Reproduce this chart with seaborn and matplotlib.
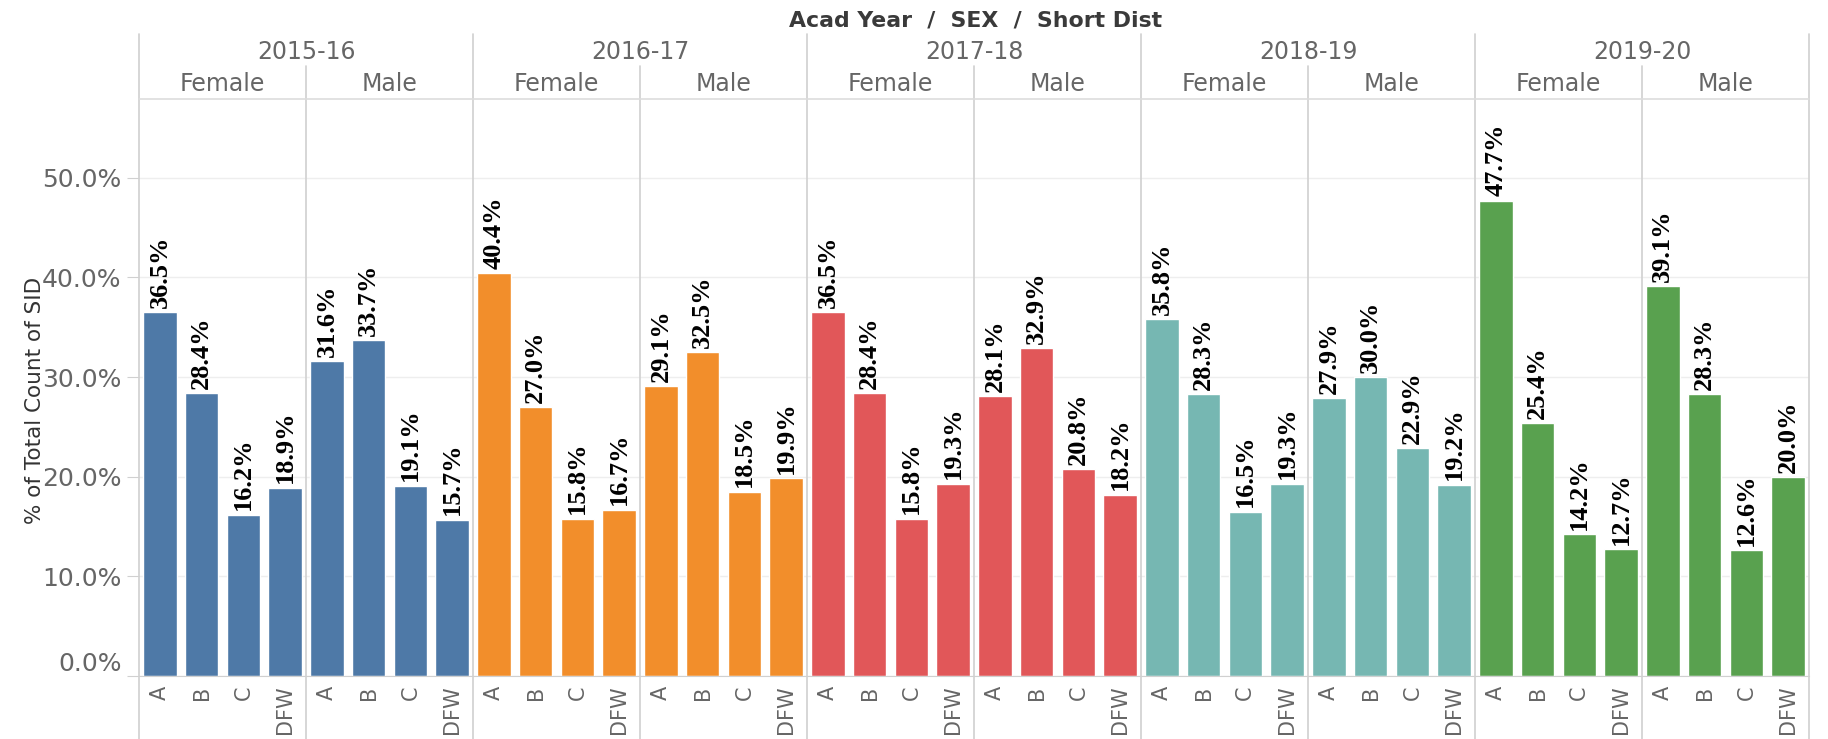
import pandas as pd
import seaborn as sns
import matplotlib.pyplot as plt
from matplotlib.lines import Line2D
from matplotlib.ticker import FuncFormatter

# data (% of total count of SID)
years = ["2015-16", "2016-17", "2017-18", "2018-19", "2019-20"]
sexes = ["Female", "Male"]
grades = ["A", "B", "C", "DFW"]
year_colors = ["#4e79a7", "#f28e2b", "#e15759", "#76b7b2", "#59a14f"]

pct_2015 = {"Female": [36.5, 28.4, 16.2, 18.9], "Male": [31.6, 33.7, 19.1, 15.7]}
pct_2016 = {"Female": [40.4, 27.0, 15.8, 16.7], "Male": [29.1, 32.5, 18.5, 19.9]}
pct_2017 = {"Female": [36.5, 28.4, 15.8, 19.3], "Male": [28.1, 32.9, 20.8, 18.2]}
pct_2018 = {"Female": [35.8, 28.3, 16.5, 19.3], "Male": [27.9, 30.0, 22.9, 19.2]}
pct_2019 = {"Female": [47.7, 25.4, 14.2, 12.7], "Male": [39.1, 28.3, 12.6, 20.0]}
all_pct = [pct_2015, pct_2016, pct_2017, pct_2018, pct_2019]

rows = []
for yr, d in zip(years, all_pct):
    for sx in sexes:
        for g, v in zip(grades, d[sx]):
            rows.append({"year": yr, "sex": sx, "grade": g, "pct": v})
df = pd.DataFrame(rows)

sns.set_style("white")
plt.rcParams["font.family"] = ["DejaVu Sans"]

W, H = 1828, 739
fig, axes = plt.subplots(1, 10, figsize=(W / 100, H / 100), dpi=100, sharey=True)
left, right = 139 / W, 1809 / W
bottom, top = 1 - 676 / H, 1 - 99 / H
fig.subplots_adjust(left=left, right=right, bottom=bottom, top=top, wspace=0)

grey_txt = "#666666"
line_c = "#d0d0d0"

i = 0
for yi, yr in enumerate(years):
    for sx in sexes:
        ax = axes[i]
        sub = df[(df.year == yr) & (df.sex == sx)]
        sns.barplot(data=sub, x="grade", y="pct", order=grades, color=year_colors[yi],
                    saturation=1, width=0.8, ax=ax, errorbar=None)
        ax.bar_label(ax.containers[0], labels=[f"{v:.1f}%" for v in sub.pct],
                     rotation=90, padding=3, fontsize=19, fontweight="bold",
                     family="Liberation Serif", color="black")
        ax.set_ylim(0, 57.9)
        ax.set_xlim(-0.5, 3.5)
        ax.set_xlabel("")
        ax.set_ylabel("")
        ax.set_yticks([0, 10, 20, 30, 40, 50])
        ax.yaxis.grid(True, color="#eeeeee", linewidth=1)
        ax.set_axisbelow(True)
        for s in ["top", "right", "left"]:
            ax.spines[s].set_visible(False)
        ax.spines["bottom"].set_color(line_c)
        ax.tick_params(axis="x", labelrotation=90, labelsize=15, colors=grey_txt,
                       length=0, pad=7)
        ax.set_xticks([0.5, 1.5, 2.5], minor=True)
        ax.tick_params(axis="x", which="minor", length=6, color="#eeeeee")
        if i == 0:
            ax.yaxis.set_major_formatter(FuncFormatter(lambda v, p: f"{v:.1f}%"))
            ax.tick_params(axis="y", labelsize=18, labelcolor=grey_txt, color=line_c,
                           length=9, left=True)
        else:
            ax.tick_params(axis="y", left=False)
        i += 1

# nudge the 0.0% label up like the original
fig.canvas.draw()
axes[0].get_yticklabels()[0].set_va("bottom")

# header / separator lines
sub_w = (right - left) / 10
year_top = 1 - 34 / H
sex_top = 1 - 66 / H
for k in range(11):
    x = left + k * sub_w
    y0 = year_top if k % 2 == 0 else sex_top
    fig.add_artist(Line2D([x, x], [0, y0], color=line_c, linewidth=1.2))
fig.add_artist(Line2D([left, right], [top, top], color="#dddddd", linewidth=1.2))

for yi, yr in enumerate(years):
    xc = left + (yi * 2 + 1) * sub_w
    fig.text(xc, 1 - 52 / H, yr, ha="center", va="center", fontsize=17, color=grey_txt)
    for si, sx in enumerate(sexes):
        xs = left + (yi * 2 + si + 0.5) * sub_w
        fig.text(xs, 1 - 84 / H, sx, ha="center", va="center", fontsize=17, color=grey_txt)

fig.text(976 / W, 1 - 20 / H, "Acad Year  /  SEX  /  Short Dist", ha="center",
         va="center", fontsize=15.8, fontweight="bold", color="#3a3a3a")
fig.text(35 / W, 1 - 400 / H, "% of Total Count of SID", rotation=90, ha="center",
         va="center", fontsize=15.5, color="#333333")

plt.savefig("out.png", dpi=100)
